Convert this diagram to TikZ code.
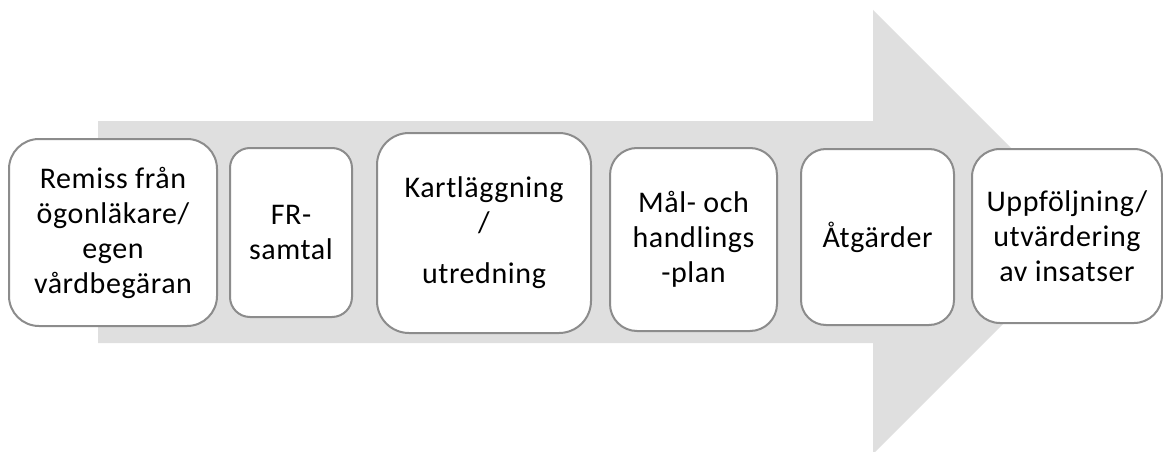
\documentclass[tikz,border=0pt]{standalone}
\usepackage{fontspec}
\setmainfont{Carlito}
\definecolor{arrowgray}{RGB}{223,223,223}
\definecolor{boxline}{RGB}{140,140,140}
\begin{document}
\begin{tikzpicture}[x=1pt,y=-1pt,
  stepbox/.style={draw=boxline, line width=2pt, fill=white, align=center, inner sep=0pt,
    font=\fontsize{30}{35}\selectfont\addfontfeature{LetterSpace=2}}]
\useasboundingbox (0,0) rectangle (1163,452);
\fill[arrowgray] (98,121) -- (873,121) -- (873,10) -- (1095,232) -- (873,454) -- (873,343) -- (98,343) -- cycle;
\node[stepbox, minimum width=208pt, minimum height=187pt, rounded corners=30pt] (b1) at (113,232.5)
  {Remiss från\\ögonläkare/\\egen\\vårdbegäran};
\node[stepbox, minimum width=122pt, minimum height=169pt, rounded corners=20pt] (b2) at (291,232.5)
  {FR-\\samtal};
\node[stepbox, minimum width=214pt, minimum height=200pt, rounded corners=32pt] (b3) at (484,233)
  {Kartläggning\\/\\[16pt]utredning};
\node[stepbox, minimum width=167pt, minimum height=183pt, rounded corners=27pt] (b4) at (693.5,239.5)
  {Mål- och\\handlings\\-plan};
\node[stepbox, minimum width=153pt, minimum height=176pt, rounded corners=25pt] (b5) at (877.5,237)
  {Åtgärder};
\node[stepbox, minimum width=190pt, minimum height=174pt, rounded corners=28pt] (b6) at (1067,236)
  {Uppföljning/\\utvärdering\\av insatser};
\end{tikzpicture}
\end{document}
